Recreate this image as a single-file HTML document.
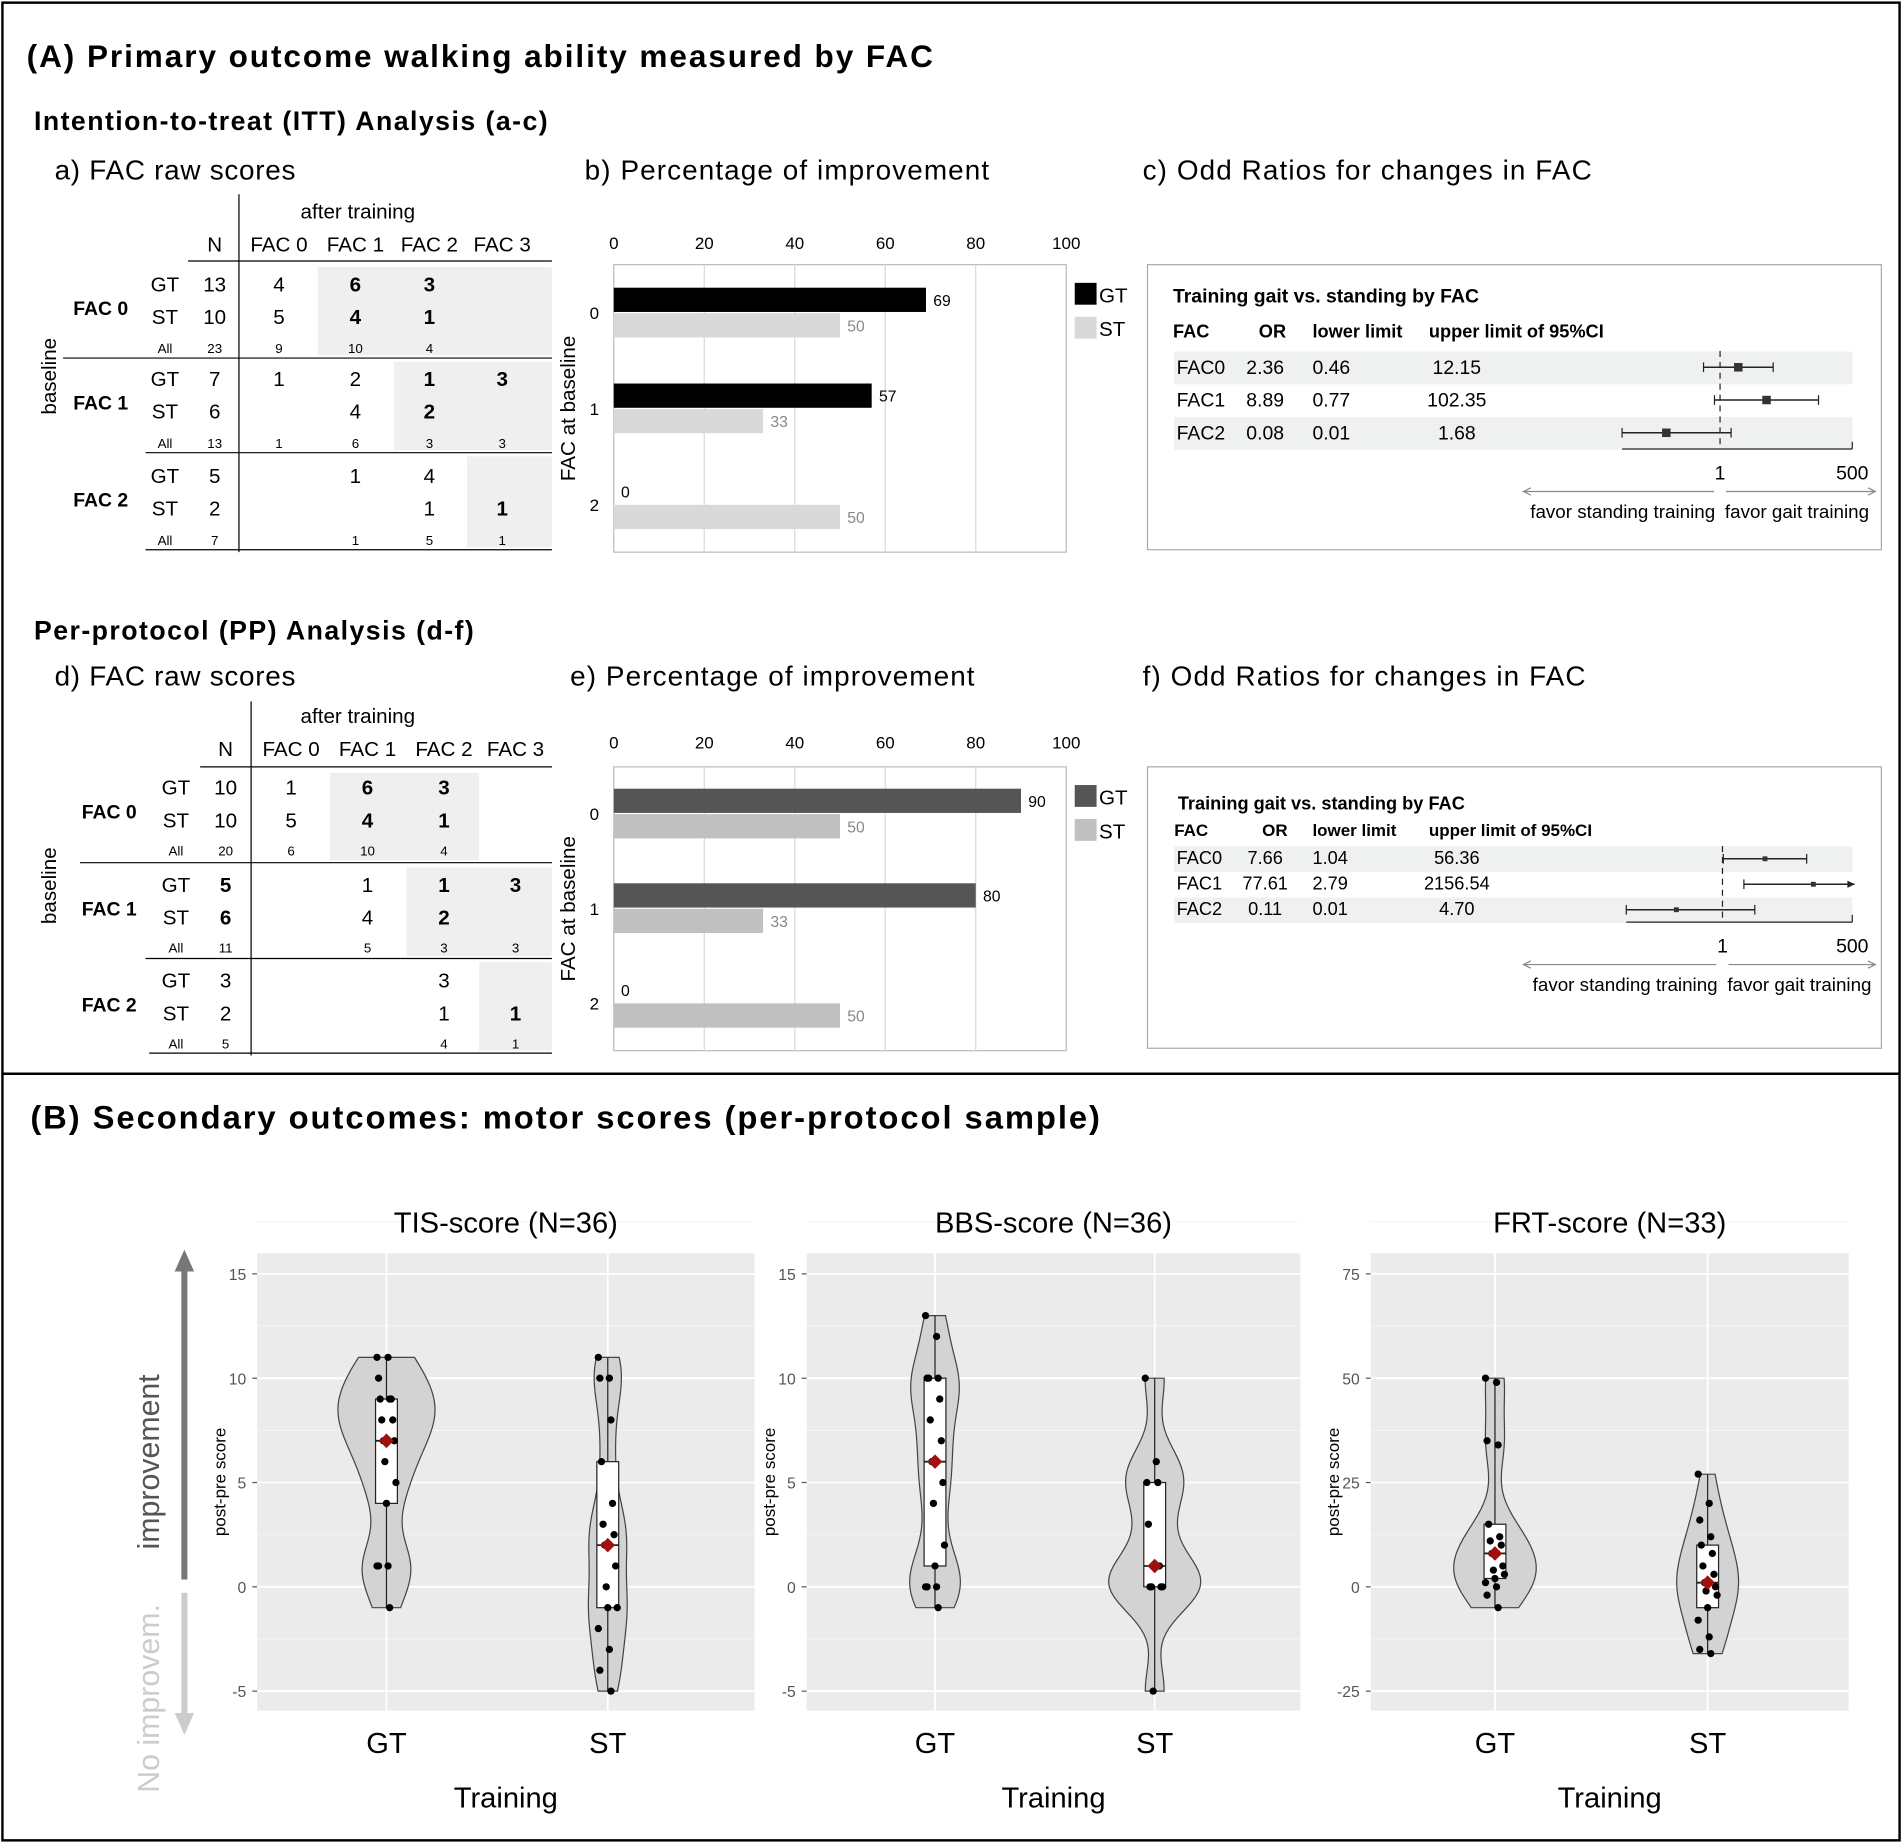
<!DOCTYPE html>
<html><head><meta charset="utf-8">
<style>
html,body{margin:0;padding:0;background:#fff;}
svg{display:block;font-family:"Liberation Sans",Arial,sans-serif;}
</style></head>
<body>
<svg id="fig" width="1902" height="1843" viewBox="0 0 1568 1519" xmlns="http://www.w3.org/2000/svg">
<rect x="2" y="2" width="1564" height="1515" fill="#fff" stroke="#000" stroke-width="2"/>
<line x1="2" y1="885" x2="1566" y2="885" stroke="#000" stroke-width="2"/>
<text x="22" y="55" font-size="26" font-weight="bold" letter-spacing="1.6">(A) Primary outcome walking ability measured by FAC</text>
<text x="28" y="107" font-size="22" font-weight="bold" letter-spacing="1.2">Intention-to-treat  (ITT) Analysis  (a-c)</text>
<text x="45" y="148" font-size="23" letter-spacing="0.6">a) FAC raw scores</text>
<text x="482" y="148" font-size="23" letter-spacing="0.9">b) Percentage  of improvement</text>
<text x="942" y="148" font-size="23" letter-spacing="0.9">c) Odd Ratios for changes in FAC</text>
<text x="28" y="527" font-size="22" font-weight="bold" letter-spacing="1.2">Per-protocol  (PP) Analysis  (d-f)</text>
<text x="45" y="565" font-size="23" letter-spacing="0.6">d) FAC raw scores</text>
<text x="470" y="565" font-size="23" letter-spacing="0.9">e)  Percentage  of improvement</text>
<text x="942" y="565" font-size="23" letter-spacing="0.9">f) Odd Ratios for changes in FAC</text>
<text x="25" y="930" font-size="27" font-weight="bold" letter-spacing="1.6">(B) Secondary outcomes: motor scores (per-protocol sample)</text>
<g id="tables"></g><g id="bars"></g><g id="forest"></g><g id="violins"></g>
<g>
<line x1="152" y1="1302" x2="152" y2="1045" stroke="#777" stroke-width="5"/>
<polygon points="144,1048 160,1048 152,1030" fill="#777"/>
<line x1="152" y1="1313" x2="152" y2="1415" stroke="#ccc" stroke-width="5"/>
<polygon points="144,1412 160,1412 152,1430" fill="#ccc"/>
<text transform="translate(131,1205) rotate(-90)" text-anchor="middle" font-size="25" fill="#555">improvement</text>
<text transform="translate(131,1400) rotate(-90)" text-anchor="middle" font-size="25" fill="#ccc">No improvem.</text>
</g>
</svg>
<script>
const NS="http://www.w3.org/2000/svg";
function mk(parent,tag,attrs,txt){const e=document.createElementNS(NS,tag);for(const k in attrs)e.setAttribute(k,attrs[k]);if(txt!==undefined)e.textContent=txt;parent.appendChild(e);return e;}

/* ---------- TABLE DATA ---------- */
const colHeads=["N","FAC 0","FAC 1","FAC 2","FAC 3"];
const groupNames=["FAC 0","FAC 1","FAC 2"];
const rowNames=["GT","ST","All"];
const ittTable=[
 [["13","4","*6","*3",""],["10","5","*4","*1",""],["23","9","10","4",""]],
 [["7","1","2","*1","*3"],["6","","4","*2",""],["13","1","6","3","3"]],
 [["5","","1","4",""],["2","","","1","*1"],["7","","1","5","1"]]];
const ppTable=[
 [["10","1","*6","*3",""],["10","5","*4","*1",""],["20","6","10","4",""]],
 [["*5","","1","*1","*3"],["*6","","4","*2",""],["11","","5","3","3"]],
 [["3","","","3",""],["2","","","1","*1"],["5","","","4","1"]]];

function drawTable(cfg,data){
 const g=mk(document.getElementById('tables'),'g',{});
 
 
 cfg.shade.forEach(s=>{const r=mk(g,'rect',{x:s[0],y:s[1],width:s[2]-s[0],height:s[3]-s[1],fill:'#efefef'});
  
  });
 let t=mk(g,'text',{x:cfg.afterX,y:cfg.afterY,'font-size':17,'text-anchor':'middle'},'after training');
 
 
 colHeads.forEach((h,i)=>{const e=mk(g,'text',{x:cfg.colX[i],y:cfg.headY,'font-size':17,'text-anchor':'middle'},h);
  
  });
 mk(g,'line',{x1:cfg.vX,y1:cfg.vY1,x2:cfg.vX,y2:cfg.vY2,stroke:'#000'});
 mk(g,'line',{x1:cfg.hX,y1:cfg.hY,x2:455,y2:cfg.hY,stroke:'#000'});
 cfg.seps.forEach(s=>mk(g,'line',{x1:s[1],y1:s[0],x2:455,y2:s[0],stroke:'#000'}));
 t=mk(g,'text',{transform:`translate(${cfg.baseX},${cfg.baseY}) rotate(-90)`,'font-size':17,'text-anchor':'middle'},'baseline');
 
 
 data.forEach((grp,gi)=>{
  const ys=cfg.rowsY[gi];
  const gl=mk(g,'text',{x:cfg.groupX,y:(ys[0]+ys[1])/2+6,'font-size':16,'font-weight':'bold','text-anchor':'middle'},groupNames[gi]);
  
  
  grp.forEach((row,ri)=>{
   const small=ri===2;
   const rl=mk(g,'text',{x:cfg.rowX,y:ys[ri],'font-size':small?11:17,'text-anchor':'middle'},rowNames[ri]);
   
   
   row.forEach((v,ci)=>{ if(!v)return;
    const b=v[0]==='*';
    const c=mk(g,'text',{x:cfg.colX[ci],y:ys[ri],'font-size':small?11:17,'font-weight':b?'bold':'normal','text-anchor':'middle'},b?v.slice(1):v);
    
    });
  });
 });
}
drawTable({name:'itt-table',colX:[177,230,293,354,414],headY:207,afterX:295,afterY:180,vX:197,vY1:160,vY2:455,hX:155,hY:215,
 seps:[[295,52],[373,120],[453,120]],rowsY:[[240,267,291],[318,345,369],[398,425,449]],groupX:83,rowX:136,baseX:46,baseY:310,
 shade:[[262,220,455,293],[325,298,455,371],[385,376,455,451]]},ittTable);
drawTable({name:'pp-table',colX:[186,240,303,366,425],headY:623,afterX:295,afterY:596,vX:207,vY1:578,vY2:870,hX:165,hY:632,
 seps:[[711,66],[790,120],[868,123]],rowsY:[[655,682,705],[735,762,785],[814,841,864]],groupX:90,rowX:145,baseX:46,baseY:730,
 shade:[[272,637,395,709],[335,715,455,788],[395,793,455,866]]},ppTable);

/* ---------- BAR CHART DATA ---------- */
const barCats=["0","1","2"];
const barTicks=[0,20,40,60,80,100];
const ittGT=[69,57,0];
const ittST=[50,33,50];
const ppGT=[90,80,0];
const ppST=[50,33,50];

function drawBars(cfg,gt,st){
 const g=mk(document.getElementById('bars'),'g',{});
 
 
 const x0=506,x1=879;
 const xs=v=>x0+(v/100)*(x1-x0);
 mk(g,'rect',{x:x0,y:cfg.top,width:x1-x0,height:cfg.bot-cfg.top,fill:'#fff',stroke:'#bbb'});
 barTicks.forEach(t=>{
  if(t>0&&t<100)mk(g,'line',{x1:xs(t),y1:cfg.top,x2:xs(t),y2:cfg.bot,stroke:'#d9d9d9'});
  const l=mk(g,'text',{x:xs(t),y:cfg.tickY,'font-size':14,'text-anchor':'middle'},String(t));
  
  
 });
 const band=(cfg.bot-cfg.top)/barCats.length;
 barCats.forEach((c,i)=>{
  const yT=cfg.top+band*i+cfg.off;
  const cl=mk(g,'text',{x:490,y:yT+26,'font-size':14,'text-anchor':'middle'},c);
  
  
  const b1=mk(g,'rect',{x:x0,y:yT,width:xs(gt[i])-x0,height:20,fill:cfg.gtCol});
  
  
  const v1=mk(g,'text',{x:xs(gt[i])+6,y:yT+15,'font-size':13},String(gt[i]));
  
  
  const b2=mk(g,'rect',{x:x0,y:yT+21,width:xs(st[i])-x0,height:20,fill:cfg.stCol});
  
  
  const v2=mk(g,'text',{x:xs(st[i])+6,y:yT+36,'font-size':13,fill:'#888'},String(st[i]));
  
  
 });
 const yt=mk(g,'text',{transform:`translate(474,${(cfg.top+cfg.bot)/2}) rotate(-90)`,'font-size':17,'text-anchor':'middle'},'FAC at baseline');
 
 
 const ls=[['GT',cfg.gtCol,cfg.top+15],['ST',cfg.stCol,cfg.top+43]];
 ls.forEach(l=>{
  const e=mk(g,'g',{});
  
  
  mk(e,'rect',{x:886,y:l[2],width:18,height:18,fill:l[1]});
  mk(e,'text',{x:906,y:l[2]+16,'font-size':17},l[0]);
 });
}
drawBars({name:'itt-bar-chart',top:218,bot:455,tickY:205,off:19,gtCol:'#000',stCol:'#d9d9d9'},ittGT,ittST);
drawBars({name:'pp-bar-chart',top:632,bot:866,tickY:617,off:18,gtCol:'#555',stCol:'#c0c0c0'},ppGT,ppST);

/* ---------- FOREST DATA ---------- */
const forestRows=["FAC0","FAC1","FAC2"];
const ittOR=[2.36,8.89,0.08];
const ittLo=[0.46,0.77,0.01];
const ittHi=[12.15,102.35,1.68];
const ppOR=[7.66,77.61,0.11];
const ppLo=[1.04,2.79,0.01];
const ppHi=[56.36,2156.54,4.70];

function fmt(v){return v.toFixed(2);}
function drawForest(cfg,or,lo,hi){
 const g=mk(document.getElementById('forest'),'g',{});
 
 
 mk(g,'rect',{x:946,y:cfg.top,width:605,height:cfg.bot-cfg.top,fill:'#fff',stroke:'#aaa'});
 const xOne=cfg.xOne,xMax=1527,per=(xMax-xOne)/Math.log10(500);
 const xs=v=>Math.min(xMax+2,xOne+Math.log10(v)*per);
 const fs=cfg.fs;
 const tt=mk(g,'text',{x:cfg.titleX,y:cfg.titleY,'font-size':fs,'font-weight':'bold'},'Training gait vs. standing by FAC');
 
 
 [['FAC',982],['OR',cfg.orX],['lower limit',1082],['upper limit of 95%CI',1178]].forEach(h=>{
  const e=mk(g,'text',{x:h[1],y:cfg.headY,'font-size':fs-1,'font-weight':'bold','text-anchor':h[0]==='FAC'||h[0]==='OR'?'middle':'start'},h[0]);
  
  
 });
 forestRows.forEach((r,i)=>{
  const y=cfg.rowY[i];
  if(i!==1){const s=mk(g,'rect',{x:968,y:y-cfg.rh*0.68,width:559,height:cfg.rh,fill:'#eef1ef'});
   
   }
  [[r,970,'start'],[fmt(or[i]),1043,'middle'],[fmt(lo[i]),1082,'start'],[fmt(hi[i]),cfg.hiX,'middle']].forEach(c=>{
   const e=mk(g,'text',{x:c[1],y:y,'font-size':fs,'text-anchor':c[2]},c[0]);
   
   
  });
  const cy=y-cfg.rh*0.2;
  const ci=mk(g,'line',{x1:xs(lo[i]),y1:cy,x2:xs(hi[i]),y2:cy,stroke:'#222','stroke-width':1.2});
  
  
  mk(g,'line',{x1:xs(lo[i]),y1:cy-4,x2:xs(lo[i]),y2:cy+4,stroke:'#222'});
  if(hi[i]<=500)mk(g,'line',{x1:xs(hi[i]),y1:cy-4,x2:xs(hi[i]),y2:cy+4,stroke:'#222'});
  else mk(g,'polygon',{points:`${xMax+2},${cy} ${xMax-4},${cy-3} ${xMax-4},${cy+3}`,fill:'#222'});
  const p=mk(g,'rect',{x:xs(or[i])-cfg.ps/2,y:cy-cfg.ps/2,width:cfg.ps,height:cfg.ps,fill:'#333'});
  
  
 });
 mk(g,'line',{x1:xOne,y1:cfg.rowY[0]-cfg.rh*0.7,x2:xOne,y2:cfg.axisY,stroke:'#222','stroke-dasharray':'5,4'});
 mk(g,'line',{x1:xs(0.01),y1:cfg.axisY,x2:xMax,y2:cfg.axisY,stroke:'#222'});
 mk(g,'line',{x1:xMax,y1:cfg.axisY,x2:xMax,y2:cfg.axisY-6,stroke:'#222'});
 [['1',xOne],['500',xMax]].forEach(l=>{const e=mk(g,'text',{x:l[1],y:cfg.axisY+25,'font-size':16,'text-anchor':'middle'},l[0]);
  
  });
 const ay=cfg.axisY+35;
 mk(g,'line',{x1:1256,y1:ay,x2:xOne-5,y2:ay,stroke:'#888'});
 mk(g,'polyline',{points:`1262,${ay-3} 1256,${ay} 1262,${ay+3}`,fill:'none',stroke:'#888'});
 mk(g,'line',{x1:xOne+5,y1:ay,x2:1546,y2:ay,stroke:'#888'});
 mk(g,'polyline',{points:`1540,${ay-3} 1546,${ay} 1540,${ay+3}`,fill:'none',stroke:'#888'});
 let e=mk(g,'text',{x:xOne-4,y:ay+22,'font-size':15.5,'text-anchor':'end'},'favor standing training');
 
 
 e=mk(g,'text',{x:xOne+4,y:ay+22,'font-size':15.5},'favor gait training');
 
 
}
drawForest({name:'itt-forest-plot',top:218,bot:453,xOne:1418,titleX:967,titleY:249,fs:16,headY:278,orX:1049,hiX:1201,rowY:[308,335,362],rh:27,axisY:370,ps:7},ittOR,ittLo,ittHi);
drawForest({name:'pp-forest-plot',top:632,bot:864,xOne:1420,titleX:971,titleY:667,fs:15,headY:689,orX:1051,hiX:1201,rowY:[712,733,754],rh:21,axisY:760,ps:4},ppOR,ppLo,ppHi);

/* ---------- VIOLIN DATA ---------- */
const tisGT=[11,11,10,9,9,9,8,8,7,7,6,5,4,1,1,1,-1];
const tisST=[11,10,10,8,6,4,3,2.5,2,1,0,-1,-1,-2,-3,-4,-5];
const bbsGT=[13,12,10,10,10,9,8,7,6,5,4,2,1,0,0,0,-1];
const bbsST=[10,6,5,5,3,1,0,0,0,0,-5];
const frtGT=[50,49,35,34,15,12,11,10,8,5,4,3,2,1,0,-2,-5];
const frtST=[27,20,16,12,10,8,5,3,1,0,-1,-2,-5,-8,-12,-15,-16];
const tisTicks=[-5,0,5,10,15];
const bbsTicks=[-5,0,5,10,15];
const frtTicks=[-25,0,25,50,75];
const groupLabels=["GT","ST"];

function quant(a,q){const s=[...a].sort((x,y)=>x-y);const p=(s.length-1)*q,l=Math.floor(p),h=Math.ceil(p);return s[l]+(s[h]-s[l])*(p-l);}
function drawViolin(cfg,gt,st,ticks){
 const g=mk(document.getElementById('violins'),'g',{});
 
 
 const top=1033,bot=1410,y0=1308,yT=1050;
 const span=ticks[ticks.length-1]-ticks[1];
 const ys=v=>y0-(v-ticks[1])/span*(y0-yT);
 const bg=mk(g,'rect',{x:cfg.x0,y:top,width:cfg.x1-cfg.x0,height:bot-top,fill:'#ebebeb'});
 
 
 const step=ticks[1]-ticks[0];
 ticks.forEach(t=>{
  mk(g,'line',{x1:cfg.x0,y1:ys(t+step/2),x2:cfg.x1,y2:ys(t+step/2),stroke:'#f5f5f5','stroke-width':0.8});
  mk(g,'line',{x1:cfg.x0,y1:ys(t),x2:cfg.x1,y2:ys(t),stroke:'#fff','stroke-width':1.5});
  const l=mk(g,'text',{x:cfg.x0-9,y:ys(t)+5,'font-size':13,fill:'#555','text-anchor':'end'},String(t));
  
  
  mk(g,'line',{x1:cfg.x0-4,y1:ys(t),x2:cfg.x0,y2:ys(t),stroke:'#555'});
 });
 const xc=[cfg.x0+(cfg.x1-cfg.x0)*0.26,cfg.x0+(cfg.x1-cfg.x0)*0.705];
 xc.forEach(x=>mk(g,'line',{x1:x,y1:top,x2:x,y2:bot,stroke:'#fff','stroke-width':1.5}));
 [gt,st].forEach((d,gi)=>{
  const x=xc[gi];
  const mn=Math.min(...d),mx=Math.max(...d);
  const bw=span*0.09;
  const dens=[];const N=60;
  for(let k=0;k<=N;k++){const v=mn+(mx-mn)*k/N;let s=0;d.forEach(p=>{const z=(v-p)/bw;s+=Math.exp(-0.5*z*z);});dens.push([v,s]);}
  const dm=Math.max(...dens.map(p=>p[1]));
  const hw=cfg.maxHW*(gi===0?cfg.s0:cfg.s1);
  const L=dens.map(p=>`${x-p[1]/dm*hw},${ys(p[0])}`),R=dens.map(p=>`${x+p[1]/dm*hw},${ys(p[0])}`).reverse();
  const vp=mk(g,'polygon',{points:L.concat(R).join(' '),fill:'#d3d3d3',stroke:'#444','stroke-width':1});
  
  
  const q1=quant(d,0.25),q2=quant(d,0.5),q3=quant(d,0.75);
  mk(g,'line',{x1:x,y1:ys(mx),x2:x,y2:ys(mn),stroke:'#222'});
  const bx=mk(g,'rect',{x:x-9,y:ys(q3),width:18,height:ys(q1)-ys(q3),fill:'#fff',stroke:'#222'});
  
  
  mk(g,'line',{x1:x-9,y1:ys(q2),x2:x+9,y2:ys(q2),stroke:'#222','stroke-width':1.5});
  d.forEach((v,i)=>{
   const j=((i*7)%13-6)*1.3;
   const c=mk(g,'circle',{cx:x+j,cy:ys(v),r:3,fill:'#000'});
   
   
  });
  const m=ys(q2);
  const dm2=mk(g,'polygon',{points:`${x},${m-6} ${x+6},${m} ${x},${m+6} ${x-6},${m}`,fill:'#a01010'});
  
  
  const gl=mk(g,'text',{x:x,y:1445,'font-size':24,'text-anchor':'middle'},groupLabels[gi]);
  
  
 });
 let t=mk(g,'text',{x:(cfg.x0+cfg.x1)/2,y:1016,'font-size':24,'text-anchor':'middle'},cfg.title);
 
 
 t=mk(g,'text',{x:(cfg.x0+cfg.x1)/2,y:1490,'font-size':24,'text-anchor':'middle'},'Training');
 
 
 t=mk(g,'text',{transform:`translate(${cfg.x0-26},${(top+bot)/2}) rotate(-90)`,'font-size':14,'text-anchor':'middle'},'post-pre score');
 
 
}
drawViolin({name:'tis-violin',x0:212,x1:622,title:'TIS-score (N=36)',maxHW:40,s0:1,s1:0.4},tisGT,tisST,tisTicks);
drawViolin({name:'bbs-violin',x0:665,x1:1072,title:'BBS-score (N=36)',maxHW:38,s0:0.55,s1:1},bbsGT,bbsST,bbsTicks);
drawViolin({name:'frt-violin',x0:1130,x1:1524,title:'FRT-score (N=33)',maxHW:34,s0:1,s1:0.75},frtGT,frtST,frtTicks);
</script>
</body></html>
